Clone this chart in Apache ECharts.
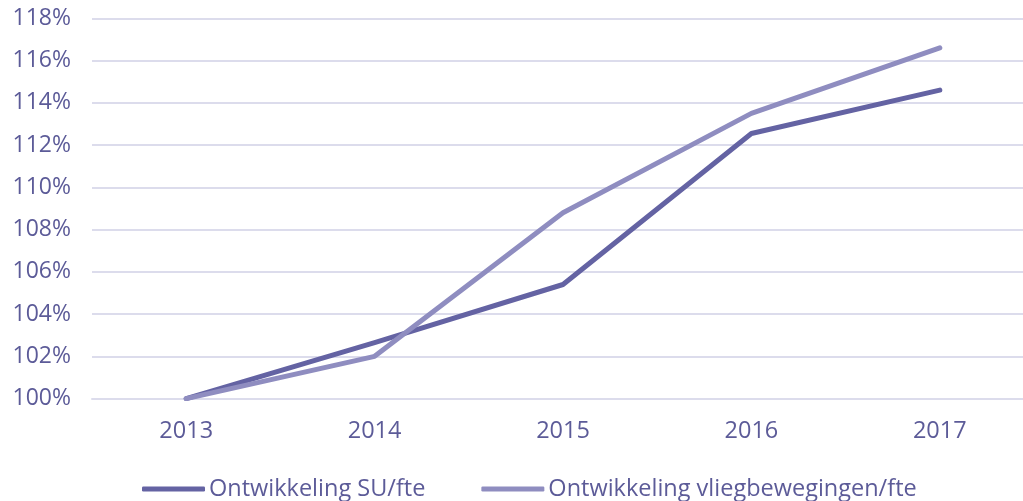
<!DOCTYPE html>
<html>
<head>
<meta charset="utf-8">
<script src="https://cdn.jsdelivr.net/npm/echarts@6/dist/echarts.min.js"></script>
<style>
html,body{margin:0;padding:0;background:#fff;}
#c{width:1023px;height:501px;}
</style>
</head>
<body>
<div id="c"></div>
<script>
var categories = ['2013', '2014', '2015', '2016', '2017'];
var suFte = [100, 102.65, 105.4, 112.55, 114.6];
var vliegFte = [100, 102.0, 108.8, 113.5, 116.6];
var seriesNames = ['Ontwikkeling SU/fte', 'Ontwikkeling vliegbewegingen/fte'];

var textColor = '#5c5b98';
var gridColor = '#dcdcec';
var font = '"Open Sans", sans-serif';

var chart = echarts.init(document.getElementById('c'), null, {renderer: 'canvas'});
chart.setOption({
  animation: false,
  backgroundColor: '#ffffff',
  grid: {left: 92, width: 942, top: 18.3, bottom: 102.4, containLabel: false, outerBoundsMode: 'none'},
  legend: {
    left: 137,
    top: 472,
    itemWidth: 63,
    itemHeight: 5,
    itemGap: 56,
    icon: 'roundRect',
    textStyle: {color: textColor, fontFamily: font, fontSize: 23.5, padding: [0, 0, 0, -1]},
    data: seriesNames
  },
  xAxis: {
    type: 'category',
    data: categories,
    boundaryGap: true,
    axisLine: {show: true, lineStyle: {color: gridColor, width: 2}},
    axisTick: {show: false},
    axisLabel: {color: textColor, fontFamily: font, fontSize: 23.5, margin: 21}
  },
  yAxis: {
    type: 'value',
    min: 100,
    max: 118,
    interval: 2,
    axisLine: {show: false},
    axisTick: {show: false},
    splitLine: {lineStyle: {color: gridColor, width: 2}},
    axisLabel: {color: textColor, fontFamily: font, fontSize: 23, margin: 21,
      formatter: function (v) { return v + '%'; }}
  },
  series: [
    {
      name: seriesNames[0], type: 'line', data: suFte,
      symbol: 'none', color: '#6463a3',
      lineStyle: {width: 5, color: '#6463a3', cap: 'round', join: 'round'}
    },
    {
      name: seriesNames[1], type: 'line', data: vliegFte,
      symbol: 'none', color: '#8f8dc0',
      lineStyle: {width: 5, color: '#8f8dc0', cap: 'round', join: 'round'}
    }
  ]
});
</script>
</body>
</html>
